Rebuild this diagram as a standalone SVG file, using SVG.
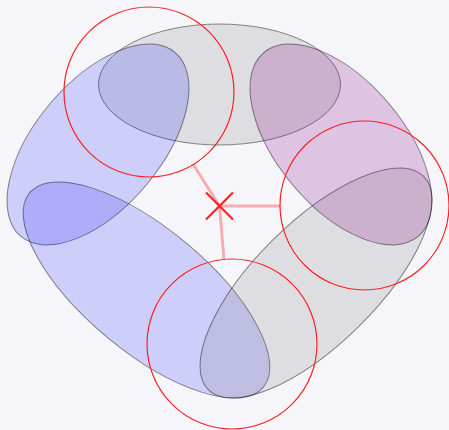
<svg xmlns="http://www.w3.org/2000/svg" width="449" height="430" viewBox="0 0 449 430">
<style>
.set{stroke:#000;stroke-opacity:0.45;stroke-width:1}
.blue{fill:#0000ff;fill-opacity:0.16}
.gray{fill:#808080;fill-opacity:0.2}
.purple{fill:#800080;fill-opacity:0.2}
.circ{fill:none;stroke:#ff2020;stroke-width:1.2}
.link{stroke:#ff0000;stroke-opacity:0.3;stroke-width:3}
.mark{stroke:#ff2020;stroke-width:2.2}
</style>
<rect width="449" height="430" fill="#f6f6fa"/>
<g id="set-top"><ellipse class="set gray" cx="219.5" cy="84.5" rx="121" ry="60.5"/></g>
<g id="set-upper-left"><ellipse class="set blue" cx="98" cy="144.5" rx="120" ry="63" transform="rotate(-50 98 144.5)"/></g>
<g id="set-lower-left"><ellipse class="set blue" cx="146.5" cy="290" rx="152" ry="61.5" transform="rotate(39.7 146.5 290)"/></g>
<g id="set-lower-right"><ellipse class="set gray" cx="316" cy="283" rx="151.6" ry="61" transform="rotate(-44.7 316 283)"/></g>
<g id="set-upper-right"><ellipse class="set purple" cx="341" cy="144.5" rx="120" ry="63" transform="rotate(50 341 144.5)"/></g>
<g id="connectors">
<line class="link" x1="219.5" y1="206" x2="193" y2="164"/>
<line class="link" x1="219.5" y1="206" x2="280" y2="206"/>
<line class="link" x1="219.5" y1="206" x2="224" y2="260"/>
</g>
<g id="circle-1"><circle class="circ" cx="149" cy="92" r="85"/></g>
<g id="circle-2"><circle class="circ" cx="364.5" cy="205.5" r="84.5"/></g>
<g id="circle-3"><circle class="circ" cx="232" cy="344" r="85"/></g>
<g id="center-mark">
<line class="mark" x1="206" y1="192.5" x2="233" y2="219.5"/>
<line class="mark" x1="233" y1="192.5" x2="206" y2="219.5"/>
</g>
</svg>
